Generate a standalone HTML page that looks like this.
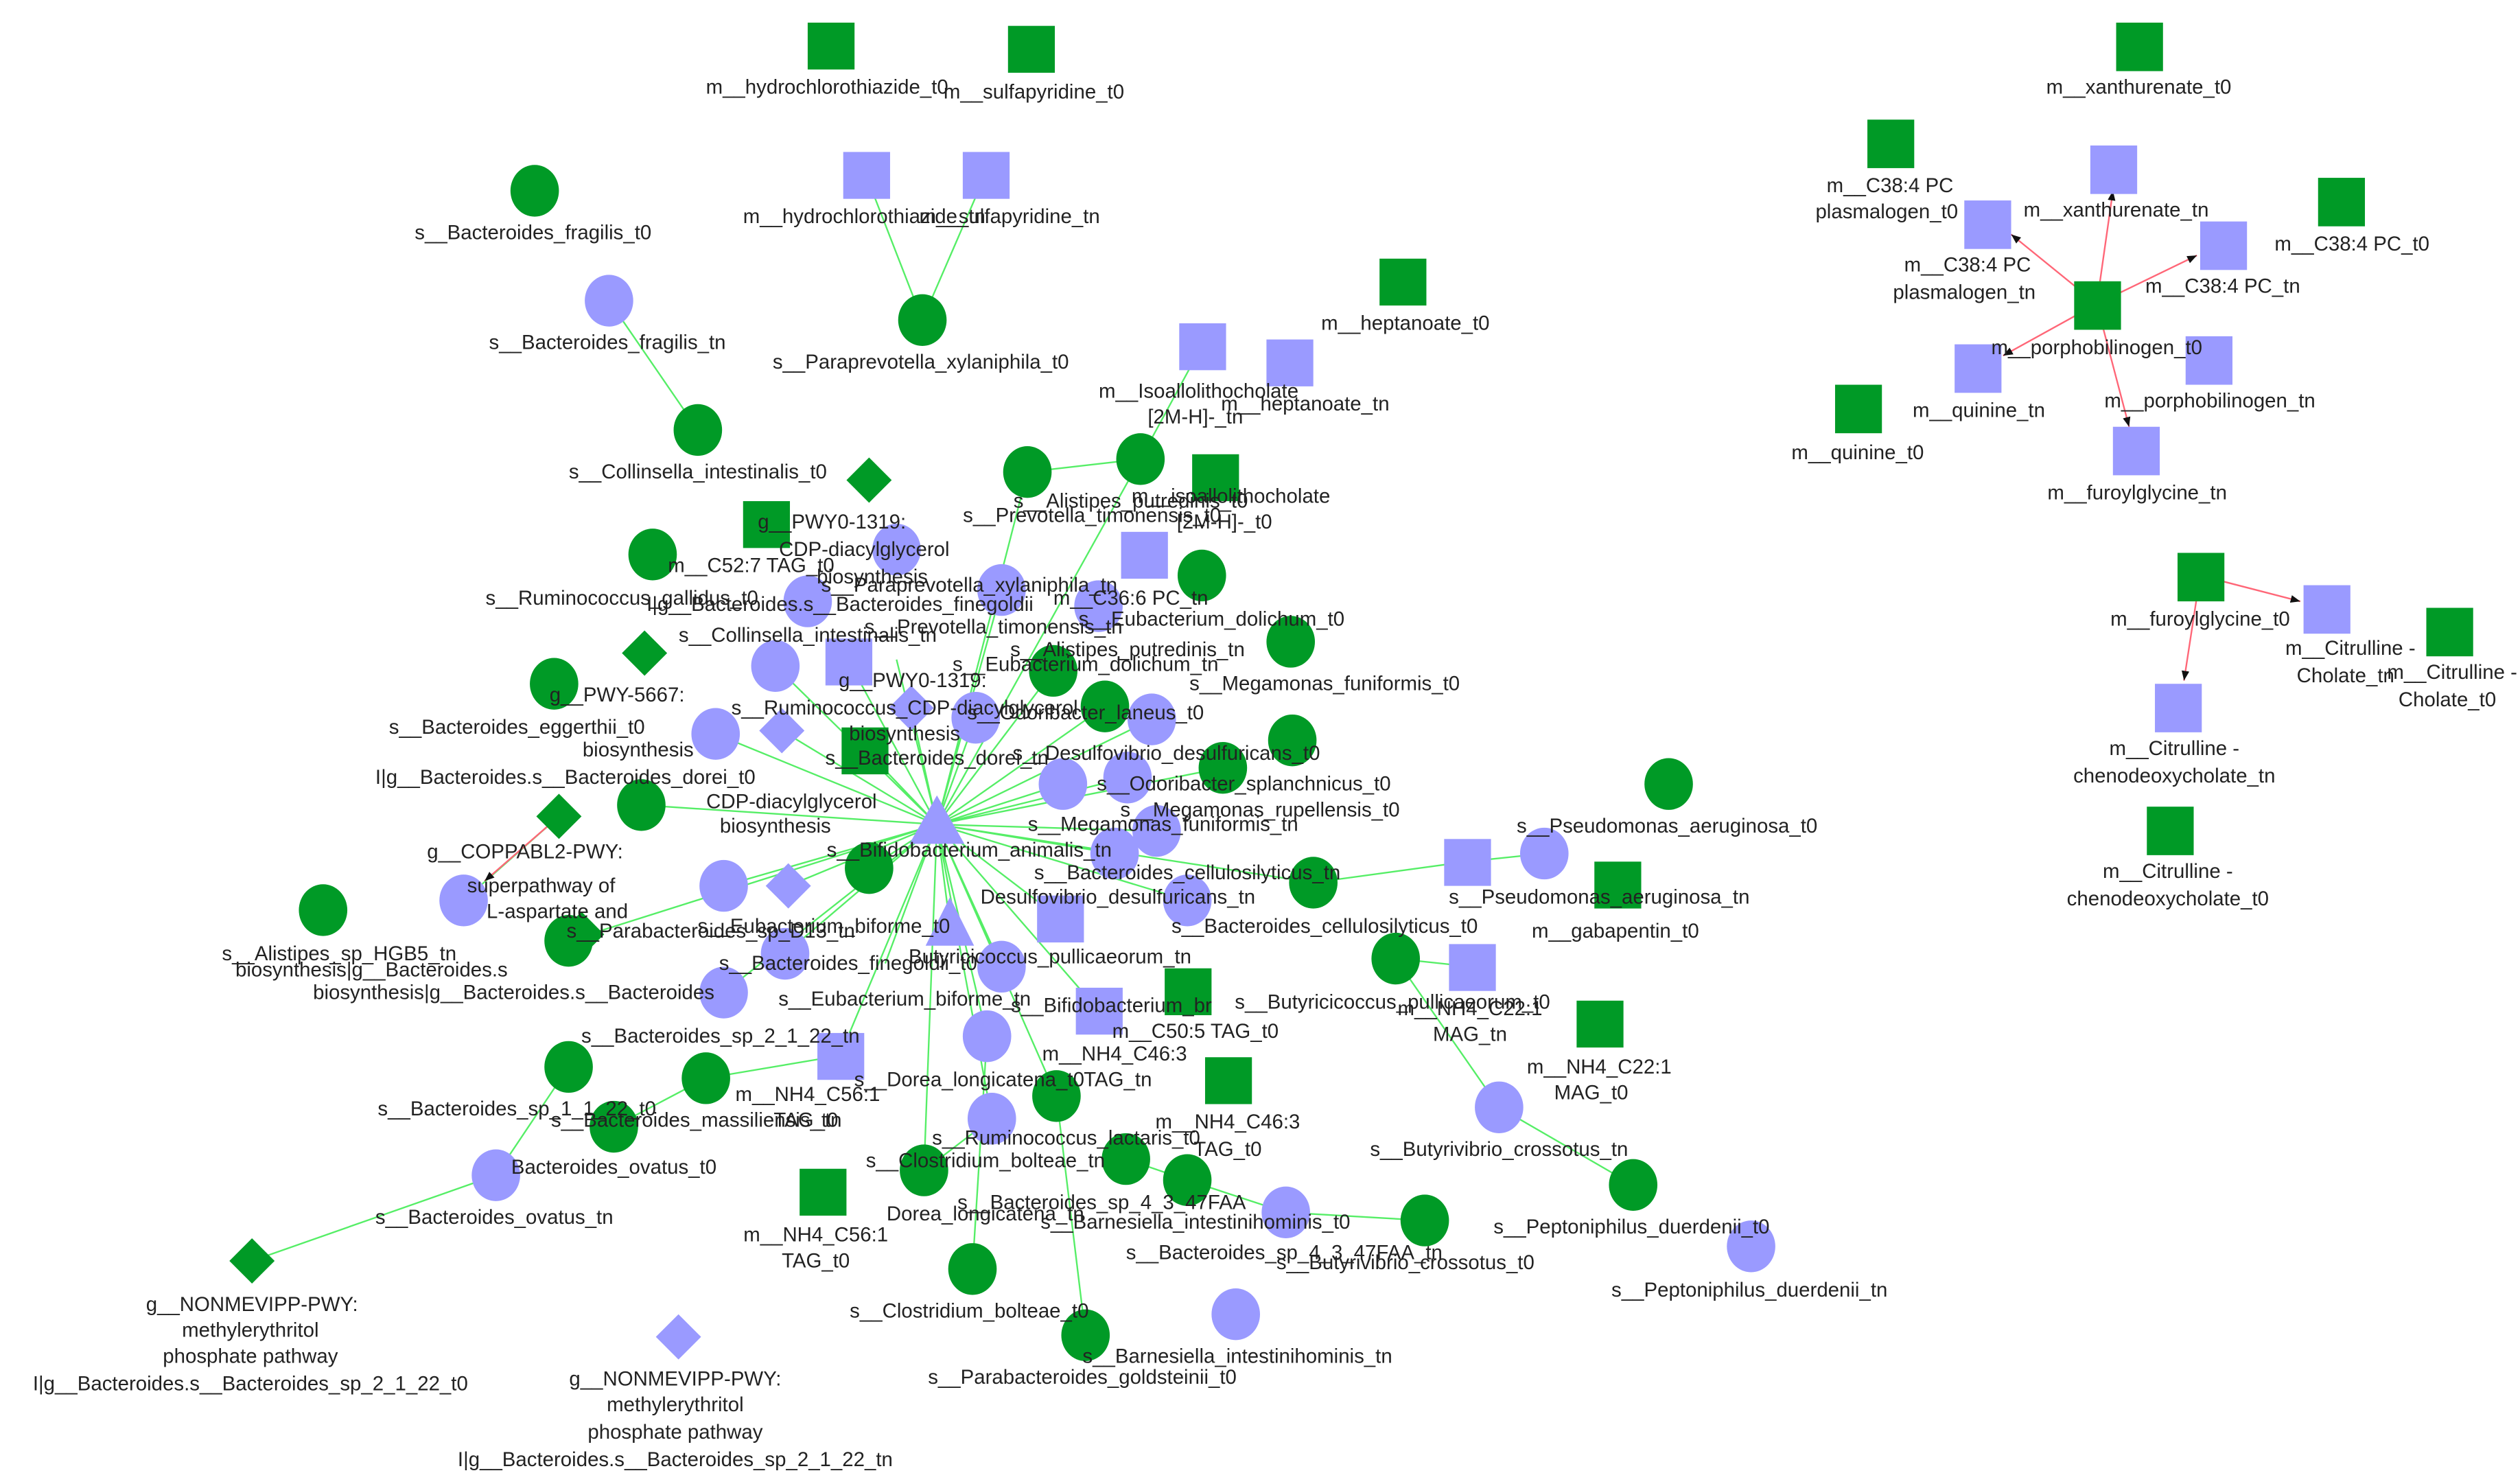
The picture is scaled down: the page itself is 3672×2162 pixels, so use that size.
<!DOCTYPE html>
<html><head><meta charset="utf-8">
<style>
html,body{margin:0;padding:0;background:#fff;}
svg{display:block;}
text{font-family:"Liberation Sans",Arial,sans-serif;font-size:12.5px;fill:#222;text-anchor:middle;}
.g{fill:#009a26;}
.l{fill:#9a9aff;}
.e{stroke:#55ee66;stroke-width:1;fill:none;}
.r{stroke:#ff6677;stroke-width:1;fill:none;}
</style></head>
<body>
<svg width="3672" height="2162" viewBox="0 0 1560 918" preserveAspectRatio="none" xmlns="http://www.w3.org/2000/svg">
<defs>
<marker id="a" viewBox="0 0 10 10" refX="10" refY="5" markerWidth="6" markerHeight="6" orient="auto"><path d="M0,1 L10,5 L0,9z" fill="#111"/></marker>
</defs>

<!-- edges -->
<g class="e">
<line x1="536" y1="108" x2="571" y2="198"/>
<line x1="610" y1="108" x2="571" y2="198"/>
<line x1="377" y1="186" x2="432" y2="266"/>
<line x1="346" y1="505" x2="287" y2="557"/>
<line x1="352" y1="660" x2="307" y2="727"/>
<line x1="307" y1="727" x2="156" y2="780"/>
<line x1="864" y1="593" x2="928" y2="685"/>
<line x1="928" y1="685" x2="1011" y2="733"/>
<line x1="813" y1="546" x2="908" y2="533"/>
<line x1="908" y1="533" x2="956" y2="528"/>
<line x1="864" y1="593" x2="911" y2="598"/>
<line x1="796" y1="750" x2="882" y2="755"/>
<line x1="706" y1="284" x2="636" y2="292"/>
<line x1="744" y1="214" x2="706" y2="284"/>
<line x1="437" y1="667" x2="520" y2="653"/>
<line x1="380" y1="697" x2="437" y2="667"/>
</g>
<g class="e">
<line x1="580" y1="510" x2="706" y2="284"/>
<line x1="580" y1="510" x2="636" y2="292"/>
<line x1="580" y1="510" x2="620" y2="365"/>
<line x1="580" y1="510" x2="652" y2="415"/>
<line x1="580" y1="510" x2="684" y2="437"/>
<line x1="580" y1="510" x2="713" y2="445"/>
<line x1="580" y1="510" x2="698" y2="481"/>
<line x1="580" y1="510" x2="757" y2="475"/>
<line x1="580" y1="510" x2="716" y2="514"/>
<line x1="580" y1="510" x2="658" y2="485"/>
<line x1="580" y1="510" x2="690" y2="528"/>
<line x1="580" y1="510" x2="735" y2="557"/>
<line x1="580" y1="510" x2="813" y2="546"/>
<line x1="580" y1="510" x2="656" y2="568"/>
<line x1="580" y1="510" x2="680" y2="625"/>
<line x1="580" y1="510" x2="611" y2="641"/>
<line x1="580" y1="510" x2="614" y2="692"/>
<line x1="580" y1="510" x2="654" y2="678"/>
<line x1="580" y1="510" x2="572" y2="724"/>
<line x1="580" y1="510" x2="520" y2="653"/>
<line x1="580" y1="510" x2="486" y2="590"/>
<line x1="580" y1="510" x2="448" y2="614"/>
<line x1="580" y1="510" x2="538" y2="537"/>
<line x1="580" y1="510" x2="448" y2="548"/>
<line x1="580" y1="510" x2="488" y2="548"/>
<line x1="580" y1="510" x2="397" y2="498"/>
<line x1="580" y1="510" x2="443" y2="454"/>
<line x1="580" y1="510" x2="484" y2="452"/>
<line x1="580" y1="510" x2="536" y2="464"/>
<line x1="580" y1="510" x2="526" y2="410"/>
<line x1="580" y1="510" x2="480" y2="412"/>
<line x1="580" y1="510" x2="564" y2="438"/>
<line x1="580" y1="510" x2="604" y2="444"/>
<line x1="580" y1="510" x2="555" y2="408"/>
<line x1="580" y1="510" x2="588" y2="572"/>
<line x1="580" y1="510" x2="620" y2="598"/>
<line x1="580" y1="510" x2="548" y2="596"/>
<line x1="580" y1="510" x2="352" y2="582"/>
<line x1="611" y1="641" x2="602" y2="785"/>
<line x1="654" y1="678" x2="672" y2="826"/>
<line x1="614" y1="692" x2="572" y2="724"/>
<line x1="735" y1="730" x2="796" y2="750"/>
<line x1="697" y1="717" x2="735" y2="730"/>
</g>
<g class="r">
<line x1="1298" y1="188" x2="1308" y2="118" marker-end="url(#a)"/>
<line x1="1298" y1="188" x2="1245" y2="145" marker-end="url(#a)"/>
<line x1="1298" y1="188" x2="1360" y2="158" marker-end="url(#a)"/>
<line x1="1298" y1="188" x2="1240" y2="220" marker-end="url(#a)"/>
<line x1="1298" y1="188" x2="1318" y2="264" marker-end="url(#a)"/>
<line x1="1362" y1="356" x2="1424" y2="372" marker-end="url(#a)"/>
<line x1="1362" y1="356" x2="1352" y2="421" marker-end="url(#a)"/>
<line x1="346" y1="505" x2="300" y2="545" marker-end="url(#a)"/>
</g>

<!-- right cluster nodes -->
<rect class="g" x="1310" y="14" width="29" height="30"/>
<rect class="g" x="1156" y="74" width="29" height="30"/>
<rect class="l" x="1294" y="90" width="29" height="30"/>
<rect class="l" x="1216" y="124" width="29" height="30"/>
<rect class="g" x="1435" y="110" width="29" height="30"/>
<rect class="l" x="1362" y="137" width="29" height="30"/>
<rect class="g" x="1284" y="174" width="29" height="30"/>
<rect class="l" x="1210" y="213" width="29" height="30"/>
<rect class="l" x="1353" y="208" width="29" height="30"/>
<rect class="g" x="1136" y="238" width="29" height="30"/>
<rect class="l" x="1308" y="264" width="29" height="30"/>
<rect class="g" x="1348" y="342" width="29" height="30"/>
<rect class="l" x="1426" y="362" width="29" height="30"/>
<rect class="g" x="1502" y="376" width="29" height="30"/>
<rect class="l" x="1334" y="423" width="29" height="30"/>
<rect class="g" x="1329" y="499" width="29" height="30"/>

<text x="1324" y="58">m__xanthurenate_t0</text>
<text x="1170" y="119">m__C38:4 PC</text>
<text x="1168" y="135">plasmalogen_t0</text>
<text x="1310" y="134">m__xanthurenate_tn</text>
<text x="1218" y="168">m__C38:4 PC</text>
<text x="1216" y="185">plasmalogen_tn</text>
<text x="1456" y="155">m__C38:4 PC_t0</text>
<text x="1376" y="181">m__C38:4 PC_tn</text>
<text x="1298" y="219">m__porphobilinogen_t0</text>
<text x="1225" y="258">m__quinine_tn</text>
<text x="1368" y="252">m__porphobilinogen_tn</text>
<text x="1150" y="284">m__quinine_t0</text>
<text x="1323" y="309">m__furoylglycine_tn</text>
<text x="1362" y="387">m__furoylglycine_t0</text>
<text x="1455" y="405">m__Citrulline -</text>
<text x="1452" y="422">Cholate_tn</text>
<text x="1518" y="420">m__Citrulline -</text>
<text x="1515" y="437">Cholate_t0</text>
<text x="1346" y="467">m__Citrulline -</text>
<text x="1346" y="484">chenodeoxycholate_tn</text>
<text x="1342" y="543">m__Citrulline -</text>
<text x="1342" y="560">chenodeoxycholate_t0</text>

<!-- main graph nodes -->
<rect class="g" x="500" y="14" width="29" height="29"/>
<rect class="g" x="624" y="16" width="29" height="29"/>
<rect class="l" x="522" y="94" width="29" height="29"/>
<rect class="l" x="596" y="94" width="29" height="29"/>
<rect class="g" x="854" y="160" width="29" height="29"/>
<rect class="l" x="730" y="200" width="29" height="29"/>
<rect class="l" x="784" y="210" width="29" height="29"/>
<rect class="g" x="738" y="281" width="29" height="29"/>
<rect class="g" x="460" y="310" width="29" height="29"/>
<rect class="l" x="694" y="329" width="29" height="29"/>
<rect class="l" x="511" y="395" width="29" height="29"/>
<rect class="g" x="521" y="450" width="29" height="29"/>
<rect class="l" x="642" y="554" width="29" height="29"/>
<rect class="l" x="894" y="519" width="29" height="29"/>
<rect class="g" x="987" y="533" width="29" height="29"/>
<rect class="l" x="897" y="584" width="29" height="29"/>
<rect class="g" x="721" y="599" width="29" height="29"/>
<rect class="l" x="666" y="611" width="29" height="29"/>
<rect class="g" x="976" y="619" width="29" height="29"/>
<rect class="l" x="506" y="639" width="29" height="29"/>
<rect class="g" x="746" y="654" width="29" height="29"/>
<rect class="g" x="495" y="723" width="29" height="29"/>

<g class="g">
<ellipse cx="331" cy="118" rx="15" ry="16"/>
<ellipse cx="571" cy="198" rx="15" ry="16"/>
<ellipse cx="432" cy="266" rx="15" ry="16"/>
<ellipse cx="706" cy="284" rx="15" ry="16"/>
<ellipse cx="636" cy="292" rx="15" ry="16"/>
<ellipse cx="404" cy="343" rx="15" ry="16"/>
<ellipse cx="744" cy="356" rx="15" ry="16"/>
<ellipse cx="799" cy="397" rx="15" ry="16"/>
<ellipse cx="652" cy="415" rx="15" ry="16"/>
<ellipse cx="343" cy="423" rx="15" ry="16"/>
<ellipse cx="684" cy="437" rx="15" ry="16"/>
<ellipse cx="800" cy="458" rx="15" ry="16"/>
<ellipse cx="757" cy="475" rx="15" ry="16"/>
<ellipse cx="1033" cy="485" rx="15" ry="16"/>
<ellipse cx="397" cy="498" rx="15" ry="16"/>
<ellipse cx="538" cy="537" rx="15" ry="16"/>
<ellipse cx="813" cy="546" rx="15" ry="16"/>
<ellipse cx="200" cy="563" rx="15" ry="16"/>
<ellipse cx="352" cy="582" rx="15" ry="16"/>
<ellipse cx="864" cy="593" rx="15" ry="16"/>
<ellipse cx="352" cy="660" rx="15" ry="16"/>
<ellipse cx="437" cy="667" rx="15" ry="16"/>
<ellipse cx="654" cy="678" rx="15" ry="16"/>
<ellipse cx="380" cy="697" rx="15" ry="16"/>
<ellipse cx="697" cy="717" rx="15" ry="16"/>
<ellipse cx="572" cy="724" rx="15" ry="16"/>
<ellipse cx="735" cy="730" rx="15" ry="16"/>
<ellipse cx="1011" cy="733" rx="15" ry="16"/>
<ellipse cx="882" cy="755" rx="15" ry="16"/>
<ellipse cx="602" cy="785" rx="15" ry="16"/>
<ellipse cx="672" cy="826" rx="15" ry="16"/>
<polygon points="538,283 552,297 538,311 524,297"/>
<polygon points="399,390 413,404 399,418 385,404"/>
<polygon points="346,491 360,505 346,519 332,505"/>
<polygon points="360,564 374,578 360,592 346,578"/>
<polygon points="156,766 170,780 156,794 142,780"/>
</g>
<g class="l">
<ellipse cx="377" cy="186" rx="15" ry="16"/>
<ellipse cx="620" cy="365" rx="15" ry="16"/>
<ellipse cx="555" cy="340" rx="15" ry="16"/>
<ellipse cx="500" cy="372" rx="15" ry="16"/>
<ellipse cx="680" cy="375" rx="15" ry="16"/>
<ellipse cx="480" cy="412" rx="15" ry="16"/>
<ellipse cx="604" cy="444" rx="15" ry="16"/>
<ellipse cx="713" cy="445" rx="15" ry="16"/>
<ellipse cx="443" cy="454" rx="15" ry="16"/>
<ellipse cx="658" cy="485" rx="15" ry="16"/>
<ellipse cx="698" cy="481" rx="15" ry="16"/>
<ellipse cx="716" cy="514" rx="15" ry="16"/>
<ellipse cx="690" cy="528" rx="15" ry="16"/>
<ellipse cx="956" cy="528" rx="15" ry="16"/>
<ellipse cx="448" cy="548" rx="15" ry="16"/>
<ellipse cx="287" cy="557" rx="15" ry="16"/>
<ellipse cx="735" cy="557" rx="15" ry="16"/>
<ellipse cx="486" cy="590" rx="15" ry="16"/>
<ellipse cx="620" cy="598" rx="15" ry="16"/>
<ellipse cx="448" cy="614" rx="15" ry="16"/>
<ellipse cx="611" cy="641" rx="15" ry="16"/>
<ellipse cx="928" cy="685" rx="15" ry="16"/>
<ellipse cx="614" cy="692" rx="15" ry="16"/>
<ellipse cx="307" cy="727" rx="15" ry="16"/>
<ellipse cx="796" cy="750" rx="15" ry="16"/>
<ellipse cx="1084" cy="771" rx="15" ry="16"/>
<ellipse cx="765" cy="813" rx="15" ry="16"/>
<polygon points="484,438 498,452 484,466 470,452"/>
<polygon points="564,424 578,438 564,452 550,438"/>
<polygon points="488,534 502,548 488,562 474,548"/>
<polygon points="420,813 434,827 420,841 406,827"/>
<polygon points="580,492 597,522 563,522"/>
<polygon points="588,555 603,585 573,585"/>
</g>

<!-- labels main -->
<text x="512" y="58">m__hydrochlorothiazide_t0</text>
<text x="640" y="61">m__sulfapyridine_t0</text>
<text x="535" y="138">m__hydrochlorothiazide_tn</text>
<text x="625" y="138">m__sulfapyridine_tn</text>
<text x="330" y="148">s__Bacteroides_fragilis_t0</text>
<text x="376" y="216">s__Bacteroides_fragilis_tn</text>
<text x="870" y="204">m__heptanoate_t0</text>
<text x="570" y="228">s__Paraprevotella_xylaniphila_t0</text>
<text x="742" y="246">m__Isoallolithocholate</text>
<text x="740" y="262">[2M-H]-_tn</text>
<text x="808" y="254">m__heptanoate_tn</text>
<text x="432" y="296">s__Collinsella_intestinalis_t0</text>
<text x="700" y="314">s__Alistipes_putredinis_t0</text>
<text x="762" y="311">m__isoallolithocholate</text>
<text x="758" y="327">[2M-H]-_t0</text>
<text x="515" y="327">g__PWY0-1319:</text>
<text x="676" y="323">s__Prevotella_timonensis_t0</text>
<text x="535" y="344">CDP-diacylglycerol</text>
<text x="465" y="354">m__C52:7 TAG_t0</text>
<text x="540" y="361">biosynthesis</text>
<text x="600" y="366">s__Paraprevotella_xylaniphila_tn</text>
<text x="385" y="374">s__Ruminococcus_gallidus_t0</text>
<text x="520" y="378">I|g__Bacteroides.s__Bacteroides_finegoldii</text>
<text x="700" y="374">m__C36:6 PC_tn</text>
<text x="750" y="387">s__Eubacterium_dolichum_t0</text>
<text x="500" y="397">s__Collinsella_intestinalis_tn</text>
<text x="615" y="392">s__Prevotella_timonensis_tn</text>
<text x="698" y="406">s__Alistipes_putredinis_tn</text>
<text x="820" y="427">s__Megamonas_funiformis_t0</text>
<text x="672" y="415">s__Eubacterium_dolichum_tn</text>
<text x="382" y="434">g__PWY-5667:</text>
<text x="565" y="425">g__PWY0-1319:</text>
<text x="320" y="454">s__Bacteroides_eggerthii_t0</text>
<text x="560" y="442">s__Ruminococcus_CDP-diacylglycerol</text>
<text x="672" y="445">s__Odoribacter_laneus_t0</text>
<text x="395" y="468">biosynthesis</text>
<text x="560" y="458">biosynthesis</text>
<text x="722" y="470">s__Desulfovibrio_desulfuricans_t0</text>
<text x="350" y="485">I|g__Bacteroides.s__Bacteroides_dorei_t0</text>
<text x="580" y="473">s__Bacteroides_dorei_tn</text>
<text x="490" y="500">CDP-diacylglycerol</text>
<text x="770" y="489">s__Odoribacter_splanchnicus_t0</text>
<text x="480" y="515">biosynthesis</text>
<text x="780" y="505">s__Megamonas_rupellensis_t0</text>
<text x="325" y="531">g__COPPABL2-PWY:</text>
<text x="720" y="514">s__Megamonas_funiformis_tn</text>
<text x="335" y="552">superpathway of</text>
<text x="600" y="530">s__Bifidobacterium_animalis_tn</text>
<text x="735" y="544">s__Bacteroides_cellulosilyticus_tn</text>
<text x="1032" y="515">s__Pseudomonas_aeruginosa_t0</text>
<text x="345" y="568">L-aspartate and</text>
<text x="510" y="577">s__Eubacterium_biforme_t0</text>
<text x="692" y="559">Desulfovibrio_desulfuricans_tn</text>
<text x="990" y="559">s__Pseudomonas_aeruginosa_tn</text>
<text x="820" y="577">s__Bacteroides_cellulosilyticus_t0</text>
<text x="1000" y="580">m__gabapentin_t0</text>
<text x="210" y="594">s__Alistipes_sp_HGB5_tn</text>
<text x="440" y="580">s__Parabacteroides_sp_D13_tn</text>
<text x="650" y="596">Butyricicoccus_pullicaeorum_tn</text>
<text x="230" y="604">biosynthesis|g__Bacteroides.s</text>
<text x="525" y="600">s__Bacteroides_finegoldii_t0</text>
<text x="862" y="624">s__Butyricicoccus_pullicaeorum_t0</text>
<text x="910" y="628">m__NH4_C22:1</text>
<text x="318" y="618">biosynthesis|g__Bacteroides.s__Bacteroides</text>
<text x="560" y="622">s__Eubacterium_biforme_tn</text>
<text x="688" y="626">s__Bifidobacterium_br</text>
<text x="910" y="644">MAG_tn</text>
<text x="740" y="642">m__C50:5 TAG_t0</text>
<text x="446" y="645">s__Bacteroides_sp_2_1_22_tn</text>
<text x="990" y="664">m__NH4_C22:1</text>
<text x="690" y="656">m__NH4_C46:3</text>
<text x="600" y="672">s__Dorea_longicatena_t0</text>
<text x="692" y="672">TAG_tn</text>
<text x="985" y="680">MAG_t0</text>
<text x="500" y="681">m__NH4_C56:1</text>
<text x="320" y="690">s__Bacteroides_sp_1_1_22_t0</text>
<text x="760" y="698">m__NH4_C46:3</text>
<text x="430" y="697">s__Bacteroides_massiliensis_t0</text>
<text x="500" y="697">TAG_tn</text>
<text x="660" y="708">s__Ruminococcus_lactaris_t0</text>
<text x="760" y="715">TAG_t0</text>
<text x="928" y="715">s__Butyrivibrio_crossotus_tn</text>
<text x="380" y="726">Bacteroides_ovatus_t0</text>
<text x="610" y="722">s__Clostridium_bolteae_tn</text>
<text x="682" y="748">s__Bacteroides_sp_4_3_47FAA</text>
<text x="306" y="757">s__Bacteroides_ovatus_tn</text>
<text x="610" y="755">Dorea_longicatena_tn</text>
<text x="740" y="760">s__Barnesiella_intestinihominis_t0</text>
<text x="1010" y="763">s__Peptoniphilus_duerdenii_t0</text>
<text x="505" y="768">m__NH4_C56:1</text>
<text x="795" y="779">s__Bacteroides_sp_4_3_47FAA_tn</text>
<text x="870" y="785">s__Butyrivibrio_crossotus_t0</text>
<text x="505" y="784">TAG_t0</text>
<text x="1083" y="802">s__Peptoniphilus_duerdenii_tn</text>
<text x="156" y="811">g__NONMEVIPP-PWY:</text>
<text x="600" y="815">s__Clostridium_bolteae_t0</text>
<text x="155" y="827">methylerythritol</text>
<text x="155" y="843">phosphate pathway</text>
<text x="766" y="843">s__Barnesiella_intestinihominis_tn</text>
<text x="670" y="856">s__Parabacteroides_goldsteinii_t0</text>
<text x="155" y="860">I|g__Bacteroides.s__Bacteroides_sp_2_1_22_t0</text>
<text x="418" y="857">g__NONMEVIPP-PWY:</text>
<text x="418" y="873">methylerythritol</text>
<text x="418" y="890">phosphate pathway</text>
<text x="418" y="907">I|g__Bacteroides.s__Bacteroides_sp_2_1_22_tn</text>
</svg>
</body></html>
